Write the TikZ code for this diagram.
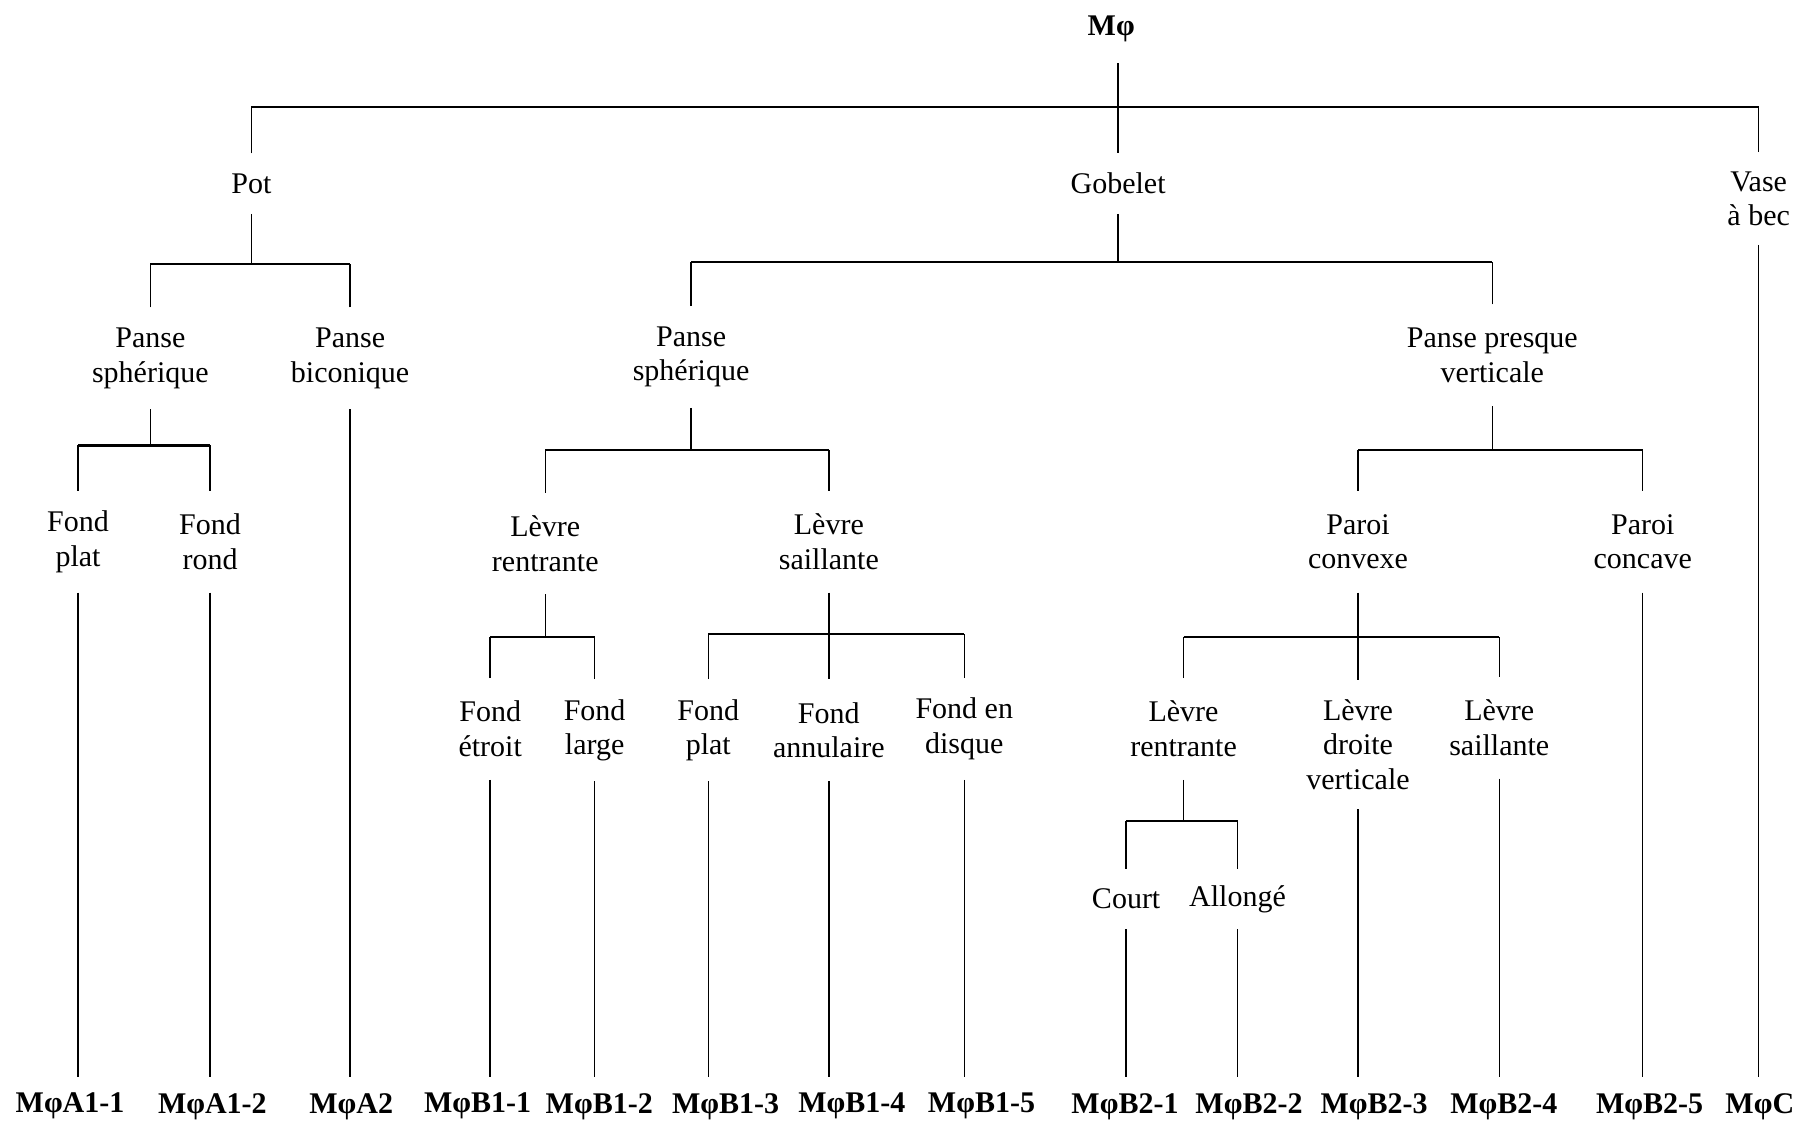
\documentclass[tikz,border=0pt]{standalone}
\usepackage{fontspec}
\setmainfont{Liberation Serif}
\begin{document}
\begin{tikzpicture}[x=0.574pt,y=-0.574pt,
  lab/.style={font=\fontsize{15}{17.25}\selectfont, align=center, inner xsep=2pt, inner ysep=0pt},
  one/.style={lab, minimum height=29.8pt},
  two/.style={lab, minimum height=50.5pt},
  three/.style={lab, minimum height=64.3pt},
  code/.style={font=\fontsize{15}{17.25}\selectfont\bfseries, anchor=north, inner xsep=1pt, inner ysep=8pt},
  conn/.style={line width=0.7pt},
  bar/.style={line width=1.1pt}]
\useasboundingbox (0,0) rectangle (1568,980);

% ---- nodes ----
\node[one, font=\fontsize{15}{17.25}\selectfont\bfseries, minimum height=34pt] (root) at (968,25) {Mφ};
\node[one] (pot) at (219,160) {Pot};
\node[one] (gob) at (974,160) {Gobelet};
\node[two, minimum height=46pt] (vase) at (1532,173) {Vase\\à bec};

\node[two] (ps1) at (131,312) {Panse\\sphérique};
\node[two] (pb)  at (305,312) {Panse\\biconique};
\node[two] (ps2) at (602,311) {Panse\\sphérique};
\node[two] (ppv) at (1300,309.5) {Panse presque\\verticale};

\node[two] (fp1) at (68,472) {Fond\\plat};
\node[two] (fr)  at (183,472) {Fond\\rond};
\node[two] (lr1) at (475,473.5) {Lèvre\\rentrante};
\node[two] (ls1) at (722,472) {Lèvre\\saillante};
\node[two] (pcx) at (1183,472) {Paroi\\convexe};
\node[two] (pcc) at (1431,472) {Paroi\\concave};

\node[two] (fe)  at (427,635) {Fond\\étroit};
\node[two] (fl)  at (518,636) {Fond\\large};
\node[two] (fp2) at (617,636) {Fond\\plat};
\node[two] (fa)  at (722,636) {Fond\\annulaire};
\node[two] (fd)  at (840,635) {Fond en\\disque};
\node[two] (lr2) at (1031,635) {Lèvre\\rentrante};
\node[three] (ldv) at (1183,648.5) {Lèvre\\droite\\verticale};
\node[two] (ls2) at (1306,634) {Lèvre\\saillante};

\node[one] (court) at (981,783) {Court};
\node[one] (allo)  at (1078,783) {Allongé};

% ---- codes ----
\node[code] (a11) at (61,938)   {MφA1-1};
\node[code] (a12) at (185,938)  {MφA1-2};
\node[code] (a2)  at (306,938)  {MφA2};
\node[code] (b11) at (416,938)  {MφB1-1};
\node[code] (b12) at (522,938)  {MφB1-2};
\node[code] (b13) at (632,938)  {MφB1-3};
\node[code] (b14) at (742,938)  {MφB1-4};
\node[code] (b15) at (855,938)  {MφB1-5};
\node[code] (b21) at (980,938)  {MφB2-1};
\node[code] (b22) at (1088,938) {MφB2-2};
\node[code] (b23) at (1197,938) {MφB2-3};
\node[code] (b24) at (1310,938) {MφB2-4};
\node[code] (b25) at (1437,938) {MφB2-5};
\node[code] (c)   at (1533,938) {MφC};

% ---- bar junctions ----
\coordinate (j0)   at (974,93);
\coordinate (jpot) at (219,230);
\coordinate (jgob) at (974,228);
\coordinate (jps1) at (131,388);
\coordinate (jps2) at (602,392);
\coordinate (jppv) at (1300,392);
\coordinate (jlr1) at (475,555);
\coordinate (jls1) at (722,552);
\coordinate (jpcx) at (1183,555);
\coordinate (jlr2) at (1031,715);

% ---- root ----
\draw[conn] (gob.north |- root.south) -- (gob.north);
\draw[conn] (pot.north) -- (pot.north |- j0);
\draw[conn] (vase.north) -- (vase.north |- j0);
\draw[bar] (pot.north |- j0) -- (vase.north |- j0);

% ---- Pot ----
\draw[conn] (pot.south) -- (jpot);
\draw[conn] (ps1.north) -- (ps1.north |- jpot);
\draw[conn] (pb.north) -- (pb.north |- jpot);
\draw[bar] (ps1.north |- jpot) -- (pb.north |- jpot);

% ---- Gobelet ----
\draw[conn] (gob.south) -- (jgob);
\draw[conn] (ps2.north) -- (ps2.north |- jgob);
\draw[conn] (ppv.north) -- (ppv.north |- jgob);
\draw[bar] (ps2.north |- jgob) -- (ppv.north |- jgob);

% ---- Panse sphérique (Pot) ----
\draw[conn] (ps1.south) -- (jps1);
\draw[conn] (fp1.north) -- (fp1.north |- jps1);
\draw[conn] (fr.north) -- (fr.north |- jps1);
\draw[bar] (fp1.north |- jps1) -- (fr.north |- jps1);

% ---- Panse sphérique (Gobelet) ----
\draw[conn] (ps2.south) -- (jps2);
\draw[conn] (lr1.north) -- (lr1.north |- jps2);
\draw[conn] (ls1.north) -- (ls1.north |- jps2);
\draw[bar] (lr1.north |- jps2) -- (ls1.north |- jps2);

% ---- Panse presque verticale ----
\draw[conn] (ppv.south) -- (jppv);
\draw[conn] (pcx.north) -- (pcx.north |- jppv);
\draw[conn] (pcc.north) -- (pcc.north |- jppv);
\draw[bar] (pcx.north |- jppv) -- (pcc.north |- jppv);

% ---- Lèvre rentrante (B1) ----
\draw[conn] (lr1.south) -- (jlr1);
\draw[conn] (fe.north) -- (fe.north |- jlr1);
\draw[conn] (fl.north) -- (fl.north |- jlr1);
\draw[bar] (fe.north |- jlr1) -- (fl.north |- jlr1);

% ---- Lèvre saillante (B1) ----
\draw[conn] (ls1.south) -- (fa.north);
\draw[conn] (fp2.north) -- (fp2.north |- jls1);
\draw[conn] (fd.north) -- (fd.north |- jls1);
\draw[bar] (fp2.north |- jls1) -- (fd.north |- jls1);

% ---- Paroi convexe ----
\draw[conn] (pcx.south) -- (ldv.north);
\draw[conn] (lr2.north) -- (lr2.north |- jpcx);
\draw[conn] (ls2.north) -- (ls2.north |- jpcx);
\draw[bar] (lr2.north |- jpcx) -- (ls2.north |- jpcx);

% ---- Lèvre rentrante (B2) ----
\draw[conn] (lr2.south) -- (jlr2);
\draw[conn] (court.north) -- (court.north |- jlr2);
\draw[conn] (allo.north) -- (allo.north |- jlr2);
\draw[bar] (court.north |- jlr2) -- (allo.north |- jlr2);

% ---- leaves to codes ----
\draw[conn] (fp1.south) -- (fp1.south |- a11.north);
\draw[conn] (fr.south) -- (fr.south |- a12.north);
\draw[conn] (pb.south) -- (pb.south |- a2.north);
\draw[conn] (fe.south) -- (fe.south |- b11.north);
\draw[conn] (fl.south) -- (fl.south |- b12.north);
\draw[conn] (fp2.south) -- (fp2.south |- b13.north);
\draw[conn] (fa.south) -- (fa.south |- b14.north);
\draw[conn] (fd.south) -- (fd.south |- b15.north);
\draw[conn] (court.south) -- (court.south |- b21.north);
\draw[conn] (allo.south) -- (allo.south |- b22.north);
\draw[conn] (ldv.south) -- (ldv.south |- b23.north);
\draw[conn] (ls2.south) -- (ls2.south |- b24.north);
\draw[conn] (pcc.south) -- (pcc.south |- b25.north);
\draw[conn] (vase.south) -- (vase.south |- c.north);
\end{tikzpicture}
\end{document}
